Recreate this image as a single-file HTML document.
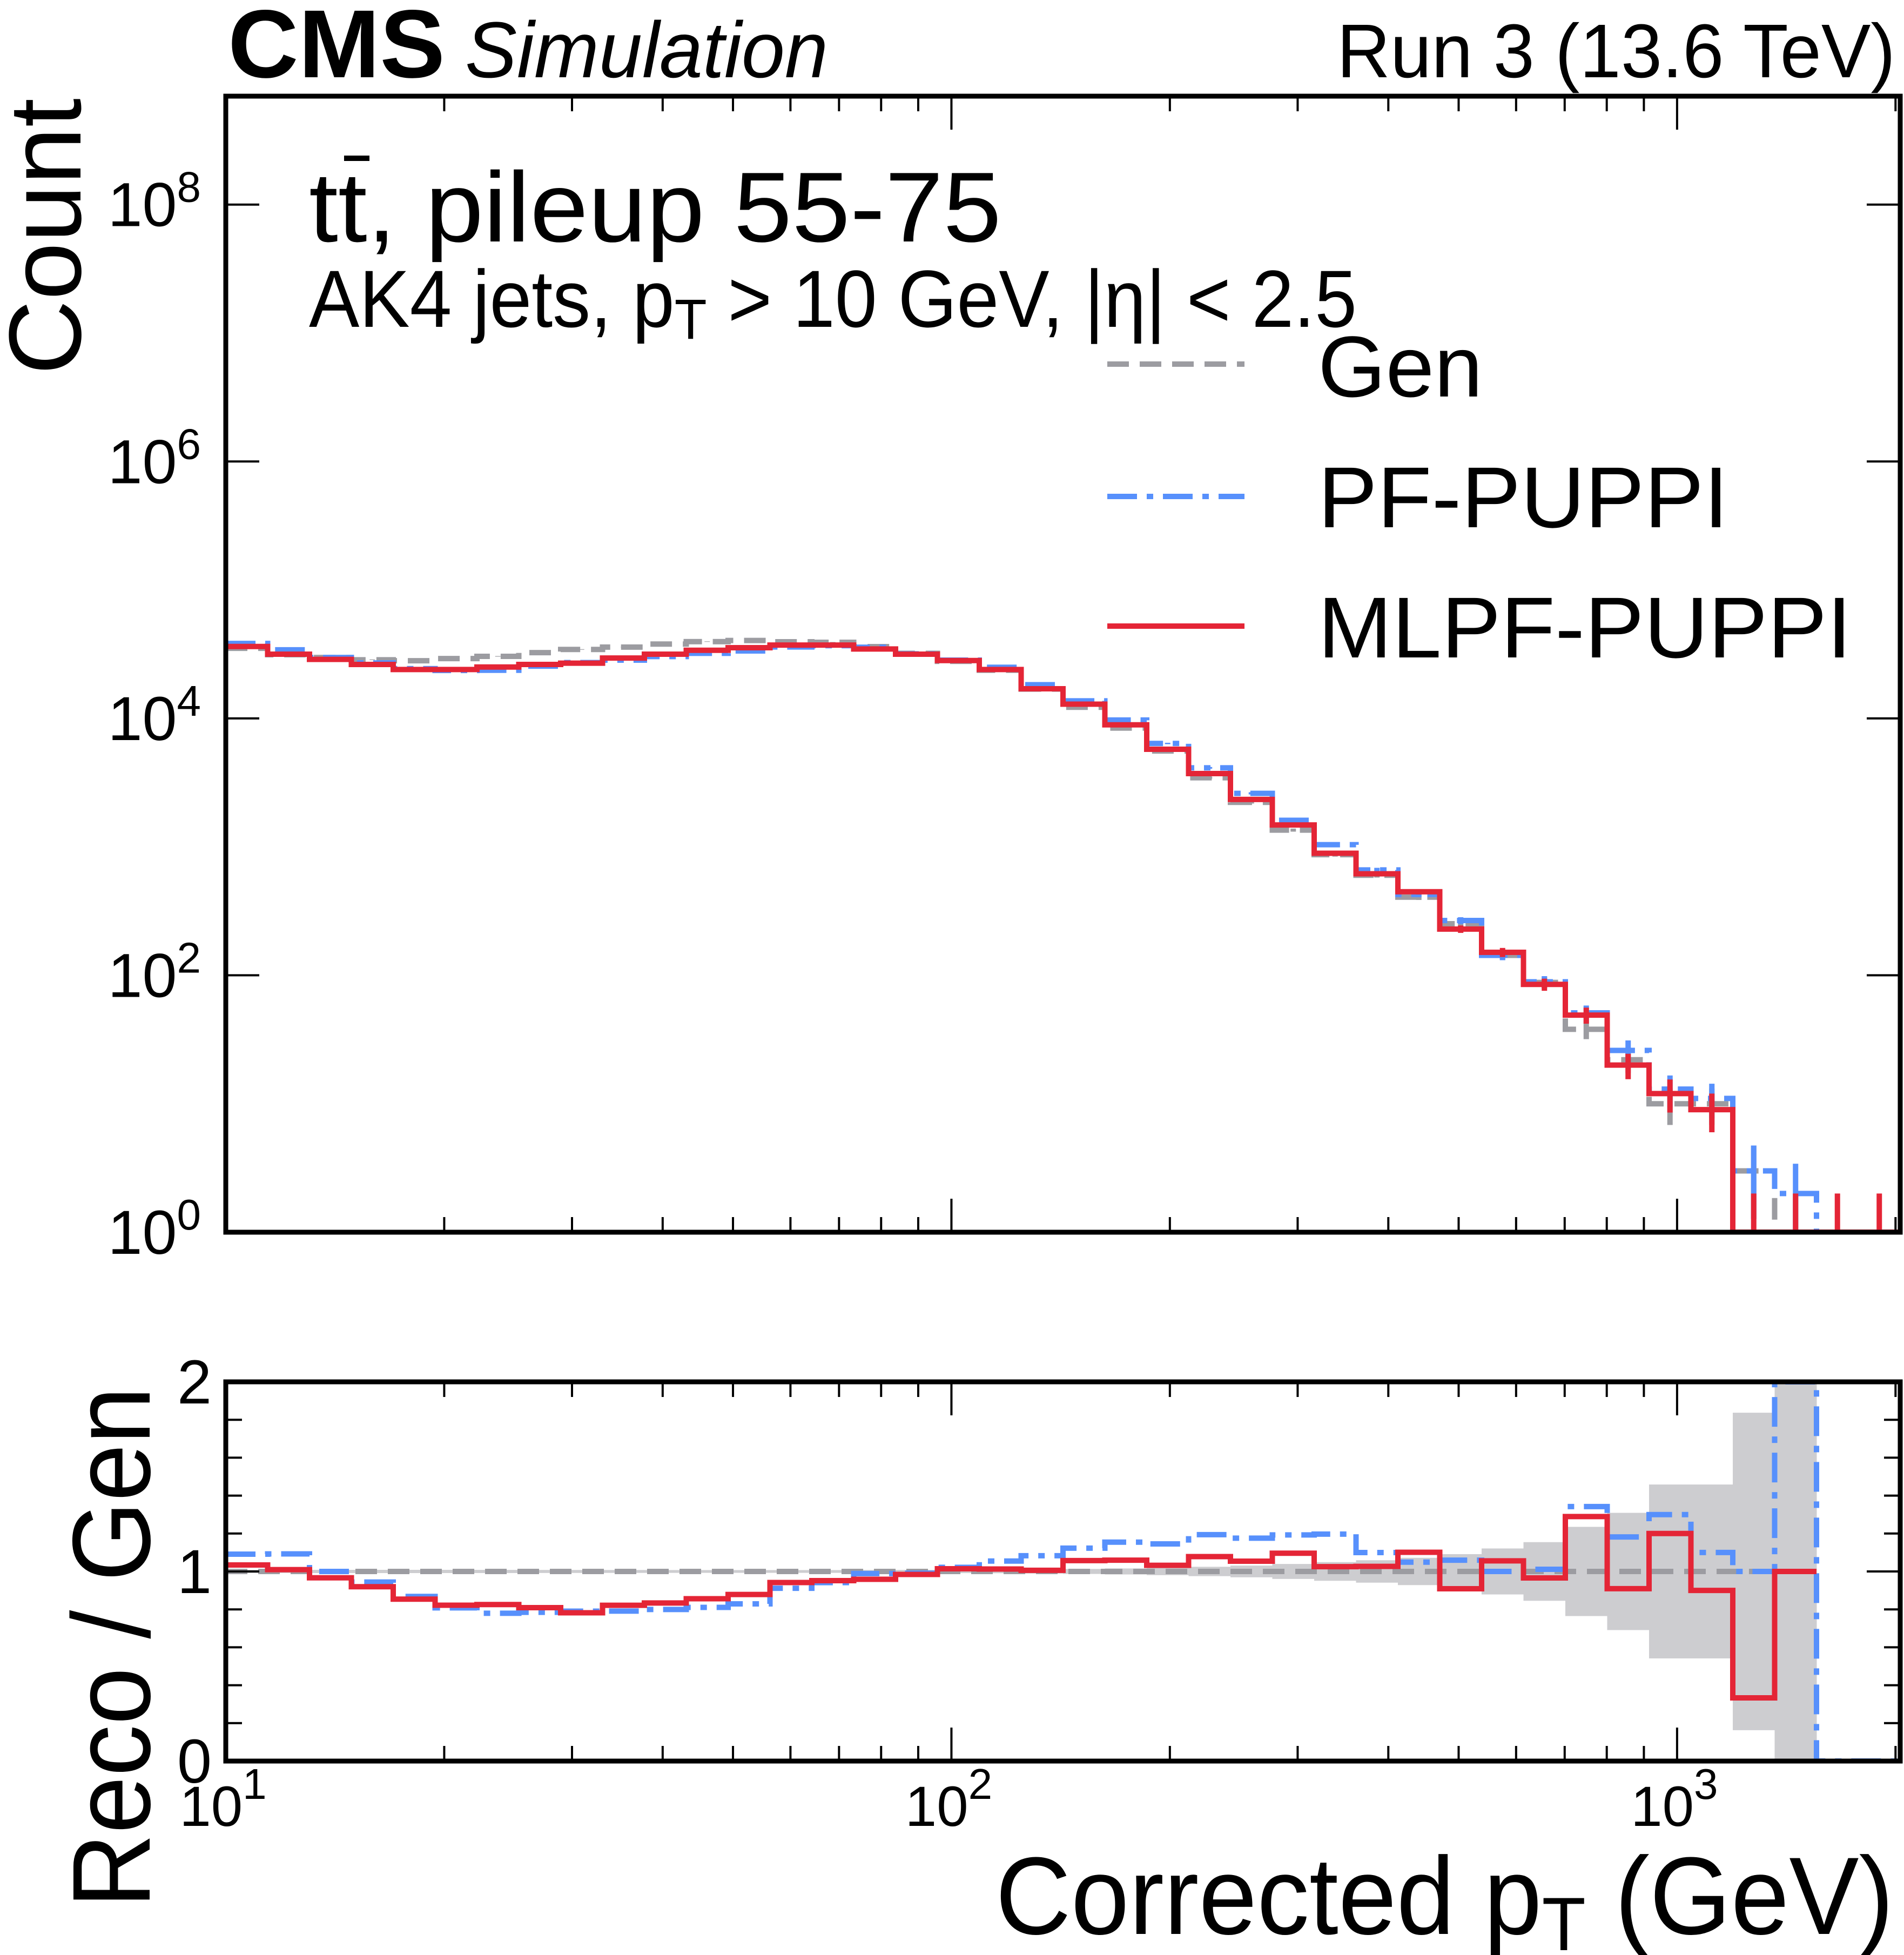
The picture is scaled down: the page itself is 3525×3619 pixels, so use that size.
<!DOCTYPE html>
<html><head><meta charset="utf-8"><style>
html,body{margin:0;padding:0;background:#fff}
svg{display:block}
text{font-family:"Liberation Sans",sans-serif;fill:#000}
</style></head><body>
<svg id="chart" xmlns="http://www.w3.org/2000/svg" width="3525" height="3619" viewBox="0 0 3525 3619">
<defs>
<clipPath id="clipTop"><rect x="418" y="178" width="3100" height="2103"/></clipPath>
<clipPath id="clipRat"><rect x="418" y="2558" width="3100" height="702"/></clipPath>
</defs>
<rect x="0" y="0" width="3525" height="3619" fill="#fff"/>
<g id="gTop" clip-path="url(#clipTop)"></g>
<g id="gRat" clip-path="url(#clipRat)"></g>
<g id="gAxes"></g>

<text x="422" y="143" font-size="179" font-weight="bold" textLength="402" lengthAdjust="spacingAndGlyphs">CMS</text>
<text x="861" y="143" font-size="147" font-style="italic" textLength="672" lengthAdjust="spacingAndGlyphs">Simulation</text>
<text x="3509" y="143" font-size="141" text-anchor="end" textLength="1034" lengthAdjust="spacingAndGlyphs">Run 3 (13.6 TeV)</text>

<text transform="translate(149,182) rotate(-90)" font-size="190" text-anchor="end" textLength="512" lengthAdjust="spacingAndGlyphs">Count</text>
<text transform="translate(277,2567) rotate(-90)" font-size="205" text-anchor="end" textLength="965" lengthAdjust="spacingAndGlyphs">Reco / Gen</text>
<text x="3506" y="3580" font-size="204" text-anchor="end" textLength="1663" lengthAdjust="spacingAndGlyphs">Corrected p<tspan font-size="140" dy="30">T</tspan><tspan dy="-30"> (GeV)</tspan></text>

<text x="572" y="447" font-size="184" textLength="1282" lengthAdjust="spacingAndGlyphs">tt, pileup 55-75</text>
<line x1="637" y1="293" x2="684" y2="293" stroke="#000" stroke-width="10"/>
<text x="572" y="605" font-size="150" textLength="1940" lengthAdjust="spacingAndGlyphs">AK4 jets, p<tspan font-size="105" dy="22">T</tspan><tspan dy="-22"> &gt; 10 GeV, |η| &lt; 2.5</tspan></text>

<g>
<line x1="2050" y1="674" x2="2304" y2="674" stroke="#9c9ca1" stroke-width="10" stroke-dasharray="40 20"/>
<text x="2440" y="734" font-size="160" textLength="305" lengthAdjust="spacingAndGlyphs">Gen</text>
<line x1="2050" y1="919" x2="2304" y2="919" stroke="#5790fc" stroke-width="10" stroke-dasharray="55 18 12 18"/>
<text x="2440" y="976" font-size="160" textLength="760" lengthAdjust="spacingAndGlyphs">PF-PUPPI</text>
<line x1="2050" y1="1159" x2="2304" y2="1159" stroke="#e42536" stroke-width="10"/>
<text x="2440" y="1217" font-size="160" textLength="988" lengthAdjust="spacingAndGlyphs">MLPF-PUPPI</text>
</g>
</svg>
<script>
const genCounts = [35100,31300,29800,28600,28100,29200,30400,32500,34400,35900,37900,39600,40400,39500,39100,36200,32100,27800,23700,16900,12200,8410,5570,3450,2220,1350,869,601,406,252,143,88,38,22,10,10,3,1,0,0];
const pfCounts = [38300,34200,29800,27000,24400,23600,23700,25500,27200,28400,30300,32100,33500,36000,36800,35800,31800,28400,25000,18300,13700,9710,6380,4120,2610,1610,1040,661,426,267,143,89,51,26,13,11,3,2,0,0];
const mlpfCounts = [36300,31600,28800,26300,24000,24000,25100,26300,26900,29500,31600,33900,35500,37200,37200,34700,31600,28200,24000,17000,12900,8910,5750,3720,2340,1480,891,617,447,229,151,85,49,20,12,9,1,1,1,1];
const xLogMin = 1, xLogMax = 3.3075, nBins = 40;
const yTopTickExps = [0,2,4,6,8];
const ratioTickLabels = ["0","1","2"];
const xTickExps = [1,2,3];

const NS = "http://www.w3.org/2000/svg";
const X0=418, X1=3518, Y0=178, Y1=2281, R0=2558, R1=3260, YLOGMAX=8.844;
const binEdges=[]; for(let i=0;i<=nBins;i++) binEdges.push(Math.pow(10, xLogMin+(xLogMax-xLogMin)*i/nBins));
function xs(v){return X0+(Math.log10(v)-xLogMin)/(xLogMax-xLogMin)*(X1-X0);}
function ys(v){ if(v<=0) return Y1+50; return Y1-Math.log10(v)/YLOGMAX*(Y1-Y0);}
function yr(r){return R1-r/2*(R1-R0);}
function el(tag, attrs, parent){const e=document.createElementNS(NS,tag);for(const k in attrs)e.setAttribute(k,attrs[k]);parent.appendChild(e);return e;}
const gTop=document.getElementById('gTop'), gRat=document.getElementById('gRat'), gAxes=document.getElementById('gAxes');

const band=document.createElementNS(NS,'g'); gRat.appendChild(band);


genCounts.forEach((g,i)=>{ if(g<=0) return;
  const h=1.45/Math.sqrt(g);
  const r=el('rect',{x:xs(binEdges[i]),y:yr(1+h),width:xs(binEdges[i+1])-xs(binEdges[i])+0.5,height:yr(1-h)-yr(1+h),fill:'#cdcdd0'},band);
  
  
});

const styles={gen:{c:'#9c9ca1',d:'40 20'},pf:{c:'#5790fc',d:'55 18 12 18'},mlpf:{c:'#e42536',d:''}};
function stepPath(vals,yf){let d='';let started=false;
  vals.forEach((v,i)=>{ if(v===null){started=false;return;}
    const xa=xs(binEdges[i]), xb=xs(binEdges[i+1]), y=yf(v);
    d+=(started?'L':'M')+xa+','+y+'L'+xb+','+y; started=true;});
  return d;}
function drawTop(vals,key,name){
  const s=styles[key];
  const p=el('path',{d:stepPath(vals,ys),fill:'none',stroke:s.c,'stroke-width':10,'stroke-dasharray':s.d,'stroke-linejoin':'miter'},gTop);
  
  
  vals.forEach((v,i)=>{ if(v<=0) return;
    const xc=(xs(binEdges[i])+xs(binEdges[i+1]))/2, e=Math.sqrt(v);
    const l=el('line',{x1:xc,x2:xc,y1:ys(v+e),y2:ys(v-e>0?v-e:0),stroke:s.c,'stroke-width':10},gTop);
    
    
  });
}
drawTop(genCounts,'gen','gen');
drawTop(pfCounts,'pf','pf-puppi');
drawTop(mlpfCounts,'mlpf','mlpf-puppi');

function ratioVals(reco){return reco.map((v,i)=> genCounts[i]>0 ? v/genCounts[i] : (v===0?0:null));}
const genRatio=genCounts.map(g=>g>0?1:null);
[[genRatio,'gen','gen-ratio-line'],[ratioVals(pfCounts),'pf','pf-puppi-ratio-line'],[ratioVals(mlpfCounts),'mlpf','mlpf-puppi-ratio-line']].forEach(([vals,key,name])=>{
  const s=styles[key];
  const p=el('path',{d:stepPath(vals,v=>yr(Math.min(v,2.05))),fill:'none',stroke:s.c,'stroke-width':10,'stroke-dasharray':s.d},gRat);
  
  
});

[[Y0,Y1,'main-frame'],[R0,R1,'ratio-frame']].forEach(([a,b,n])=>{
  const r=el('rect',{x:X0,y:a,width:X1-X0,height:b-a,fill:'none',stroke:'#000','stroke-width':9},gAxes);
  
  
});
function tick(x1,y1,x2,y2){const t=el('line',{x1,y1,x2,y2,stroke:'#000','stroke-width':4},gAxes);
  
  }
for(let dec=1;dec<=3;dec++){for(let m=1;m<=9;m++){const v=m*Math.pow(10,dec); if(Math.log10(v)>xLogMax) continue;
  const x=xs(v), L=(m===1)?62:28;
  [[Y0,1],[Y1,-1],[R0,1],[R1,-1]].forEach(([y,s])=>tick(x,y,x,y+s*L));}}
yTopTickExps.forEach(k=>{const y=ys(Math.pow(10,k)); tick(X0,y,X0+62,y); tick(X1,y,X1-62,y);
  const t=el('text',{x:372,y:y+40,'font-size':115,'text-anchor':'end'},gAxes);
  
  
  t.textContent='10';
  const s=el('tspan',{'font-size':80,dy:-45},t); s.textContent=String(k);
});
for(let j=0;j<=10;j++){const r=j*0.2, y=yr(r), L=(j%5===0)?62:30; tick(X0,y,X0+L,y); tick(X1,y,X1-L,y);}
ratioTickLabels.forEach((lab,i)=>{const t=el('text',{x:392,y:yr(i)+40,'font-size':115,'text-anchor':'end'},gAxes);
  
  
  t.textContent=lab;});
xTickExps.forEach(k=>{const x=xs(Math.pow(10,k));
  const t=el('text',{x:x-5,y:3380,'font-size':105,'text-anchor':'middle'},gAxes);
  
  
  t.textContent='10';
  const s=el('tspan',{'font-size':80,dy:-50},t); s.textContent=String(k);
});
</script>
</body></html>
